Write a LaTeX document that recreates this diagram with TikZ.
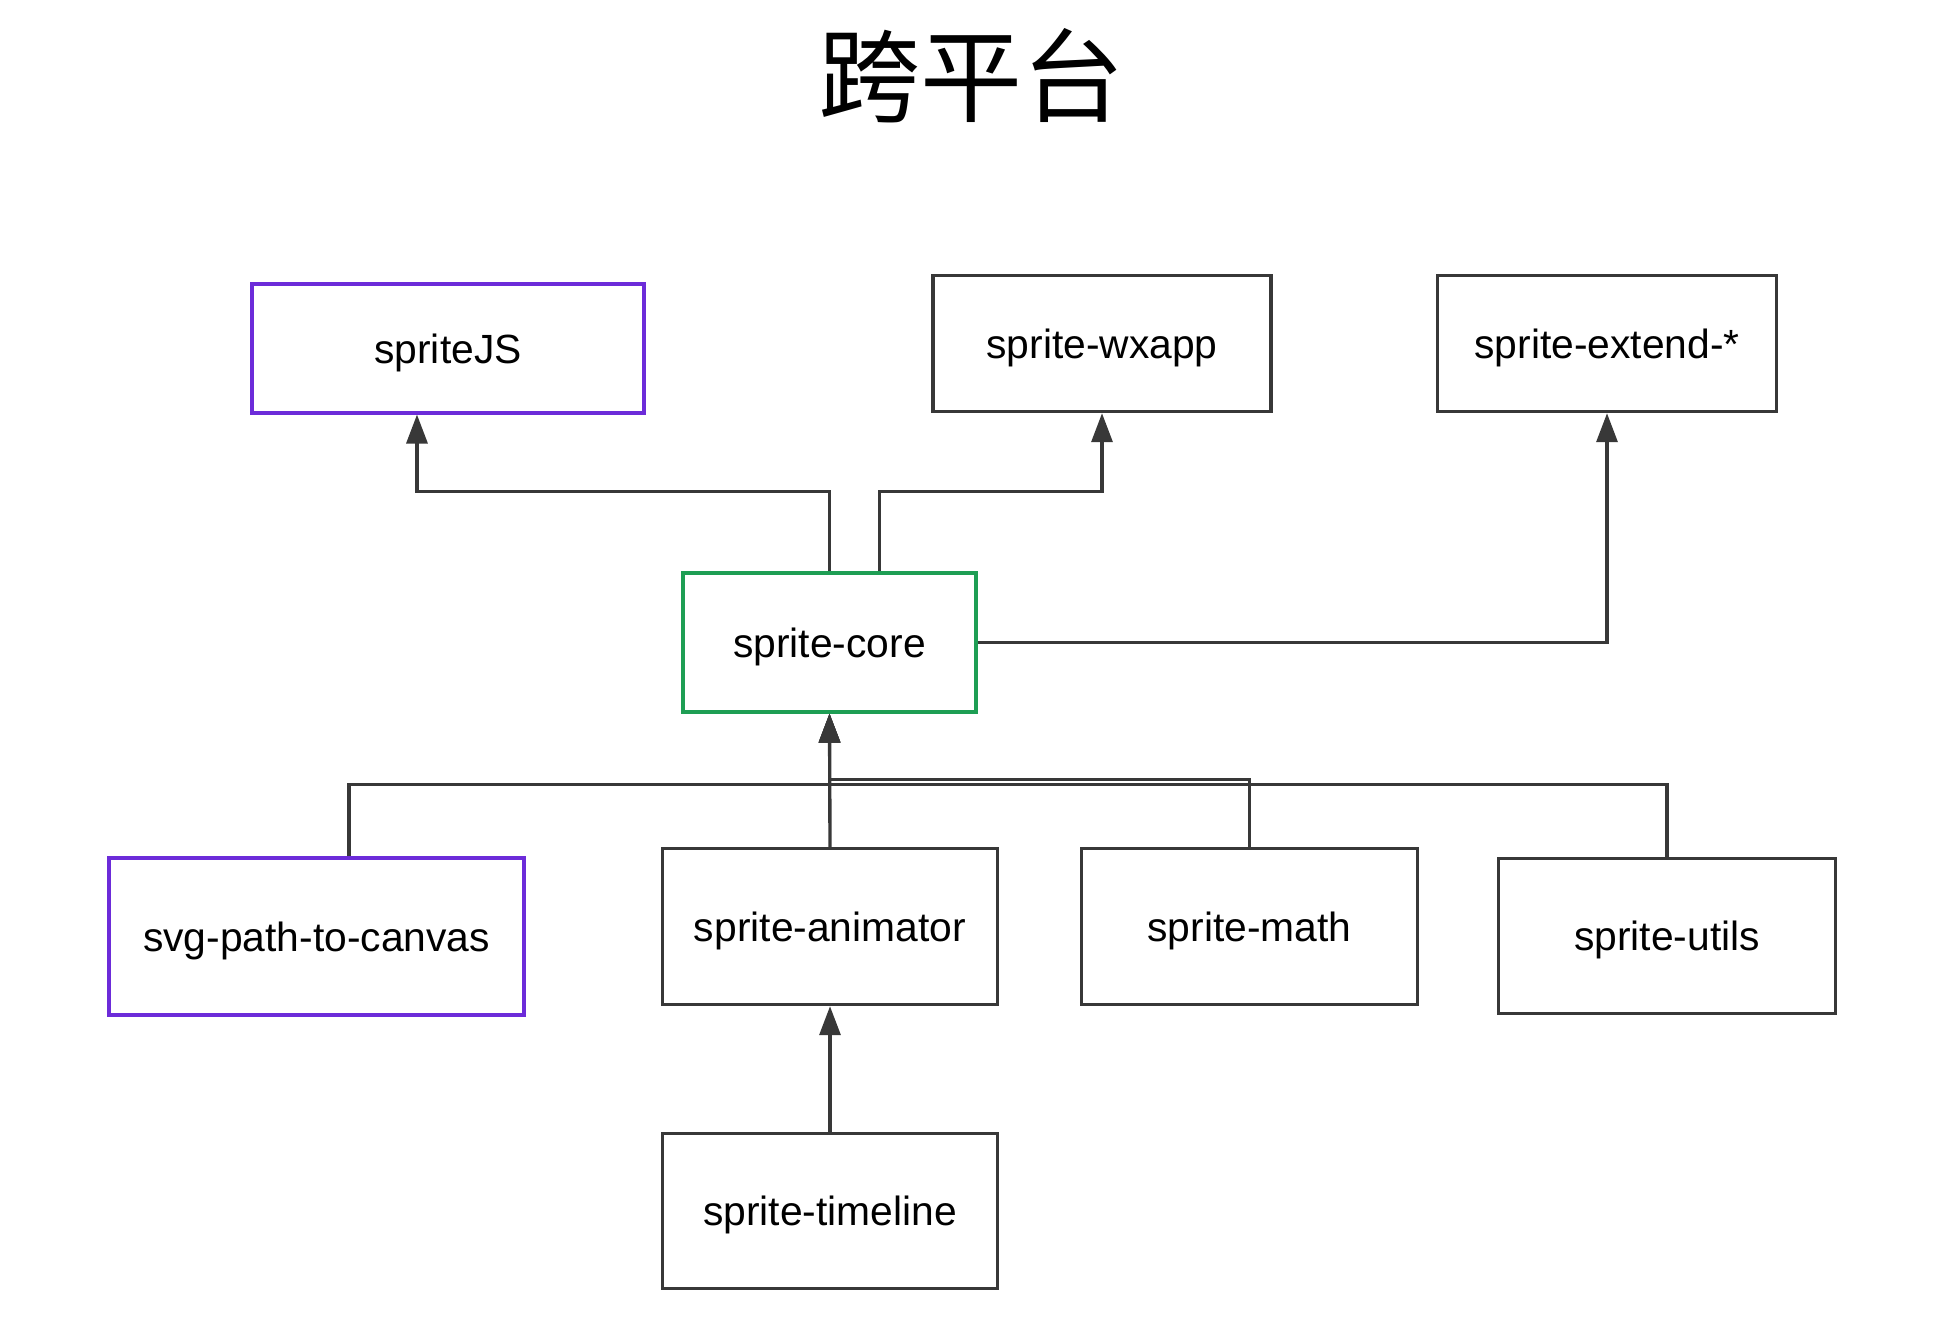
\documentclass[tikz,border=0pt]{standalone}
\usepackage{fontspec}
\setmainfont{Liberation Sans}
\newfontfamily\cjk{Noto Sans CJK SC}
\usetikzlibrary{arrows.meta}
\definecolor{linegray}{RGB}{56,56,56}
\definecolor{pkgpurple}{RGB}{108,43,217}
\definecolor{pkggreen}{RGB}{30,158,84}
\begin{document}
\begin{tikzpicture}[x=0.01cm,y=-0.01cm,
    pkg/.style={draw=linegray,line width=0.95pt,rectangle,inner sep=0pt,
        text height=11pt,text depth=2.5pt,
        font=\fontsize{11.6pt}{14pt}\selectfont},
    corepkg/.style={pkg,draw=pkggreen,line width=1.15pt},
    mainpkg/.style={pkg,draw=pkgpurple,line width=1.15pt},
    dep/.style={draw=linegray,line width=0.95pt,-{Triangle[length=2.9mm,width=2.1mm]}}]
            \useasboundingbox (0,0) rectangle (1936,1318);
            \node[font=\cjk\fontsize{29pt}{34pt}\selectfont] (title) at (971,76) {跨平台};
            \node[mainpkg,minimum width=3.91cm,minimum height=1.28cm] (spritejs) at (448,348.5) {spriteJS};
            \node[pkg,minimum width=3.38cm,minimum height=1.36cm] (wxapp) at (1102,343.5) {sprite-wxapp};
            \node[pkg,minimum width=3.39cm,minimum height=1.36cm] (extend) at (1607,343.5) {sprite-extend-*};
            \node[corepkg,minimum width=2.92cm,minimum height=1.38cm] (core) at (829.5,642.5) {sprite-core};
            \node[mainpkg,minimum width=4.14cm,minimum height=1.56cm] (svgpath) at (316.5,936.5) {svg-path-to-canvas};
            \node[pkg,minimum width=3.35cm,minimum height=1.56cm] (animator) at (830,926.5) {sprite-animator};
            \node[pkg,minimum width=3.36cm,minimum height=1.56cm] (math) at (1249.5,926.5) {sprite-math};
            \node[pkg,minimum width=3.37cm,minimum height=1.55cm] (utils) at (1667,936) {sprite-utils};
            \node[pkg,minimum width=3.35cm,minimum height=1.55cm] (timeline) at (830,1211) {sprite-timeline};
            % upwards from the core
            \draw[dep] (core.north) -- ++(0,-80) -| ([xshift=-3.1mm]spritejs.south);
            \draw[dep] ([xshift=5mm]core.north) -- ++(0,-80) -| (wxapp.south);
            \draw[dep] (core.east) -| (extend.south);
            % into the core
            \draw[dep] ([xshift=3.25mm]svgpath.north) -- ++(0,-72) -| (core.south);
            \draw[dep] (animator.north) -- (core.south);
            \draw[dep] (math.north) -- ++(0,-67) -| (core.south);
            \draw[dep] (utils.north) -- ++(0,-72) -| (core.south);
            \draw[dep] (timeline.north) -- (animator.south);
        \end{tikzpicture}
\end{document}
